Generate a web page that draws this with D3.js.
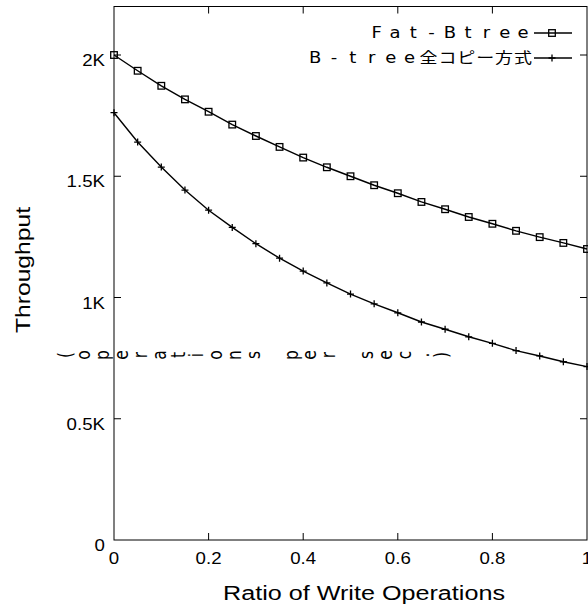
<!DOCTYPE html>
<html>
<head>
<meta charset="utf-8">
<script src="https://cdn.jsdelivr.net/npm/d3@7"></script>
<style>
  body { margin: 0; background: #fff; }
  svg { display: block; }
</style>
</head>
<body>
<script>
// ratio of write operations
var ratios = [0, 0.05, 0.1, 0.15, 0.2, 0.25, 0.3, 0.35, 0.4, 0.45, 0.5,
              0.55, 0.6, 0.65, 0.7, 0.75, 0.8, 0.85, 0.9, 0.95, 1];
var fatBtree = [2000, 1935, 1873, 1817, 1766, 1713, 1666, 1621, 1577, 1537, 1500,
                1463, 1430, 1394, 1364, 1332, 1304, 1275, 1249, 1225, 1200];
var btreeCopy = [1762, 1641, 1538, 1443, 1360, 1289, 1222, 1162, 1109, 1060, 1014,
                 974, 937, 899, 869, 838, 811, 781, 759, 735, 715];
var seriesNames = ["Fat-Btree", "B-tree全コピー方式"];
var xTicks = [0, 0.2, 0.4, 0.6, 0.8, 1];
var yTicks = [0, 500, 1000, 1500, 2000];
var yTickLabels = ["0", "0.5K", "1K", "1.5K", "2K"];

var width = 588, height = 612;
// plot box (window.top is reserved, so p* names)
var pLeft = 114, pRight = 587, pTop = 6.5, pBottom = 540;

var svg = d3.select("body").append("svg")
  .attr("width", width).attr("height", height);

var x = d3.scaleLinear().domain([0, 1]).range([pLeft, pRight]);
var y = d3.scaleLinear().domain([0, 2200]).range([pBottom, pTop]);

var tickFont = "'Liberation Sans', Arial, sans-serif";
var dejavu = "'DejaVu Sans', 'Noto Sans CJK JP', sans-serif";

// the original text is a bit wider than Liberation Sans, stretch it
function stretch(sel, f) {
  sel.each(function() {
    var w = this.getComputedTextLength();
    d3.select(this).attr("textLength", w * f).attr("lengthAdjust", "spacingAndGlyphs");
  });
}

// ticks (inward on all four sides)
var tk = svg.append("g").attr("stroke", "#000").attr("stroke-width", 1);
xTicks.slice(1, -1).forEach(function(v) {
  tk.append("line").attr("x1", x(v)).attr("x2", x(v)).attr("y1", pBottom).attr("y2", pBottom - 7);
  tk.append("line").attr("x1", x(v)).attr("x2", x(v)).attr("y1", pTop).attr("y2", pTop + 7);
});
yTicks.slice(1).forEach(function(v) {
  tk.append("line").attr("x1", pLeft).attr("x2", pLeft + 7).attr("y1", y(v)).attr("y2", y(v));
  tk.append("line").attr("x1", pRight).attr("x2", pRight - 7).attr("y1", y(v)).attr("y2", y(v));
});

// frame
svg.append("rect")
  .attr("x", pLeft).attr("y", pTop)
  .attr("width", pRight - pLeft).attr("height", pBottom - pTop)
  .attr("fill", "none").attr("stroke", "#000").attr("stroke-width", 1);

// tick labels
var xl = svg.append("g").selectAll("text").data(xTicks).enter().append("text")
  .attr("x", function(d) { return x(d); })
  .attr("y", 564)
  .attr("text-anchor", "middle")
  .attr("font-family", tickFont).attr("font-size", 16.5)
  .text(function(d) { return d; });
stretch(xl, 1.13);

var yl = svg.append("g").selectAll("text").data(yTicks).enter().append("text")
  .attr("x", 105)
  .attr("y", function(d) { return y(d) + 11; })
  .attr("text-anchor", "end")
  .attr("font-family", tickFont).attr("font-size", 16.5)
  .text(function(d, i) { return yTickLabels[i]; });
stretch(yl, 1.13);

// axis titles
svg.append("text")
  .attr("x", 364).attr("y", 600)
  .attr("text-anchor", "middle")
  .attr("font-family", tickFont).attr("font-size", 20)
  .attr("textLength", 282).attr("lengthAdjust", "spacingAndGlyphs")
  .text("Ratio of Write Operations");

svg.append("text")
  .attr("transform", "translate(30,270) rotate(-90)")
  .attr("text-anchor", "middle")
  .attr("font-family", tickFont).attr("font-size", 20)
  .attr("textLength", 126).attr("lengthAdjust", "spacingAndGlyphs")
  .text("Throughput");

// the "(operations per sec.)" part comes out as rotated glyphs laid out across
var sub = "(operations per sec.)".split("");
svg.append("g").selectAll("text").data(sub).enter().append("text")
  .attr("transform", function(d, i) {
    return "translate(" + (65 + i * 18.83) + ",355) scale(1.25,1) rotate(-90)";
  })
  .attr("text-anchor", "middle")
  .attr("dominant-baseline", "central")
  .attr("font-family", dejavu).attr("font-size", 15.5)
  .text(function(d) { return d; });

// lines
var line = d3.line()
  .x(function(d, i) { return x(ratios[i]); })
  .y(function(d) { return y(d); });

[fatBtree, btreeCopy].forEach(function(s) {
  svg.append("path").datum(s)
    .attr("d", line)
    .attr("fill", "none").attr("stroke", "#000").attr("stroke-width", 1.4);
});

function square(g, cx, cy) {
  g.append("rect").attr("x", cx - 3.3).attr("y", cy - 3.3).attr("width", 6.6).attr("height", 6.6)
    .attr("fill", "none").attr("stroke", "#000").attr("stroke-width", 1.3);
}
function plus(g, cx, cy) {
  g.append("path").attr("d", "M" + (cx - 3.5) + "," + cy + "H" + (cx + 3.5) + "M" + cx + "," + (cy - 3.5) + "V" + (cy + 3.5))
    .attr("stroke", "#000").attr("stroke-width", 1.3);
}

var marks = svg.append("g");
fatBtree.forEach(function(v, i) { square(marks, x(ratios[i]), y(v)); });
btreeCopy.forEach(function(v, i) { plus(marks, x(ratios[i]), y(v)); });

// legend: each glyph on a fixed pitch, right aligned
var pitches = [18.3, 18.9];
var legendY = [33, 58];
seriesNames.forEach(function(name, k) {
  var chars = name.split("");
  var n = chars.length;
  svg.append("g").selectAll("text").data(chars).enter().append("text")
    .attr("transform", function(c, i) {
      return "translate(" + (523 - (n - 1 - i) * pitches[k]) + "," + (legendY[k] + 5) + ") scale(1.2,1)";
    })
    .attr("text-anchor", "middle")
    .attr("font-family", dejavu).attr("font-size", 15)
    .text(function(c) { return c; });
  svg.append("line")
    .attr("x1", 534).attr("x2", 572).attr("y1", legendY[k]).attr("y2", legendY[k])
    .attr("stroke", "#000").attr("stroke-width", 1.3);
  if (k === 0) square(svg, 552, legendY[k]);
  else plus(svg, 552, legendY[k]);
});
</script>
</body>
</html>
